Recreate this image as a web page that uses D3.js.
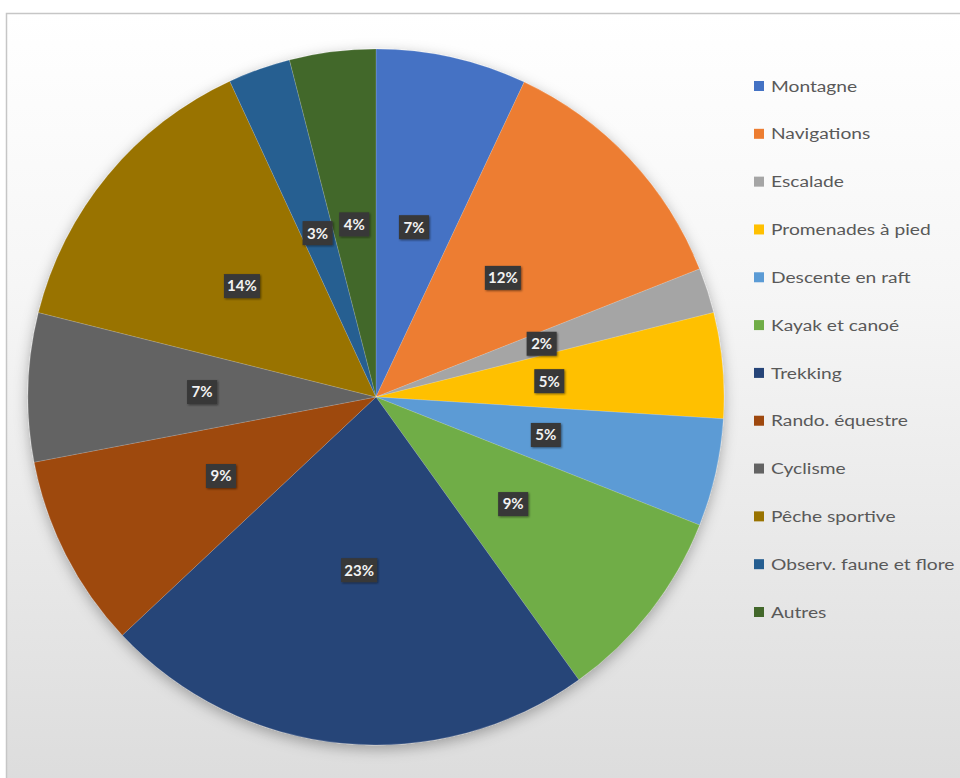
<!DOCTYPE html>
<html>
<head>
<meta charset="utf-8">
<script src="https://cdn.jsdelivr.net/npm/d3@7"></script>
<style>
  body { margin: 0; background: #fff; }
  svg { display: block; }
</style>
</head>
<body>
<svg id="svg"></svg>
<script>
// activity categories and their shares (percent)
var categories = ["Montagne", "Navigations", "Escalade", "Promenades à pied", "Descente en raft",
    "Kayak et canoé", "Trekking", "Rando. équestre", "Cyclisme", "Pêche sportive",
    "Observ. faune et flore", "Autres"]
var values = [7.0, 12.0, 2.1, 4.9, 5.0, 9.1, 22.9, 9.0, 6.9, 14.2, 2.9, 4.0]
var labels = ["7%", "12%", "2%", "5%", "5%", "9%", "23%", "9%", "7%", "14%", "3%", "4%"]
var colors = ["#4472C4", "#ED7D31", "#A5A5A5", "#FFC000", "#5B9BD5", "#70AD47",
    "#264478", "#9E480E", "#636363", "#997300", "#255E91", "#43682B"]

var w = 960
var h = 778

var svg = d3.select("#svg")
    .attr("width", w)
    .attr("height", h)

var defs = svg.append("defs")
var grad = defs.append("linearGradient")
    .attr("id", "bg")
    .attr("x1", 0).attr("y1", 0).attr("x2", 0).attr("y2", 1)
grad.append("stop").attr("offset", "0%").attr("stop-color", "#ffffff")
grad.append("stop").attr("offset", "35%").attr("stop-color", "#f6f6f6")
grad.append("stop").attr("offset", "100%").attr("stop-color", "#dcdcdc")

var shadow = defs.append("filter")
    .attr("id", "shadow")
    .attr("x", "-20%").attr("y", "-20%").attr("width", "140%").attr("height", "140%")
shadow.append("feDropShadow")
    .attr("dx", 0).attr("dy", 4)
    .attr("stdDeviation", 7)
    .attr("flood-color", "#000")
    .attr("flood-opacity", 0.3)

var boxShadow = defs.append("filter").attr("id", "boxshadow")
boxShadow.append("feDropShadow")
    .attr("dx", 1).attr("dy", 1)
    .attr("stdDeviation", 1.2)
    .attr("flood-color", "#000")
    .attr("flood-opacity", 0.5)

// chart area with border
svg.append("rect")
    .attr("x", 6.5)
    .attr("y", 13.5)
    .attr("width", w)
    .attr("height", h)
    .attr("fill", "url(#bg)")
    .attr("stroke", "#c6c6c6")
    .attr("stroke-width", 1.5)

var cx = 376, cy = 397, radius = 348

var pie = d3.pie()
    .sort(null)
    .value(function (d) { return d.value })

var arc = d3.arc()
    .innerRadius(0)
    .outerRadius(radius)

var data = categories.map(function (c, i) {
    return { name: c, value: values[i], label: labels[i] }
})

var color = d3.scaleOrdinal()
    .domain(categories)
    .range(colors)

var g = svg.append("g")
    .attr("transform", "translate(" + cx + "," + cy + ")")

var slices = g.append("g").attr("filter", "url(#shadow)")
slices.selectAll("path")
    .data(pie(data))
    .enter().append("path")
    .attr("d", arc)
    .attr("fill", function (d) { return color(d.data.name) })
    .attr("stroke", "rgba(255,255,255,0.25)")
    .attr("stroke-width", 0.6)

// data labels in dark boxes
var lab = g.selectAll("g.lab")
    .data(pie(data))
    .enter().append("g")
    .attr("class", "lab")
    .attr("transform", function (d) { return "translate(" + arc.centroid(d) + ")" })

lab.append("rect")
    .attr("x", function (d) { return d.data.label.length > 2 ? -18 : -15 })
    .attr("y", -12)
    .attr("width", function (d) { return d.data.label.length > 2 ? 36 : 30 })
    .attr("height", 24)
    .attr("fill", "#383838")
    .attr("filter", "url(#boxshadow)")

lab.append("text")
    .attr("text-anchor", "middle")
    .attr("dy", "0.36em")
    .attr("fill", "#f2f2f2")
    .attr("font-family", "Lato, sans-serif")
    .attr("font-weight", "bold")
    .attr("font-size", 15)
    .text(function (d) { return d.data.label })

// legend
var ly = d3.scalePoint()
    .domain(categories)
    .range([86, 612])

var legend = svg.append("g")
    .selectAll("g")
    .data(categories)
    .enter().append("g")
    .attr("transform", function (d) { return "translate(754," + ly(d) + ")" })

legend.append("rect")
    .attr("x", 0)
    .attr("y", -5)
    .attr("width", 10)
    .attr("height", 10)
    .attr("fill", function (d) { return color(d) })

legend.append("text")
    .attr("transform", "translate(17,0) scale(1.2,1)")
    .attr("dy", "0.35em")
    .attr("fill", "#595959")
    .attr("font-family", "Lato, sans-serif")
    .attr("font-size", 16)
    .text(function (d) { return d })
</script>
</body>
</html>
